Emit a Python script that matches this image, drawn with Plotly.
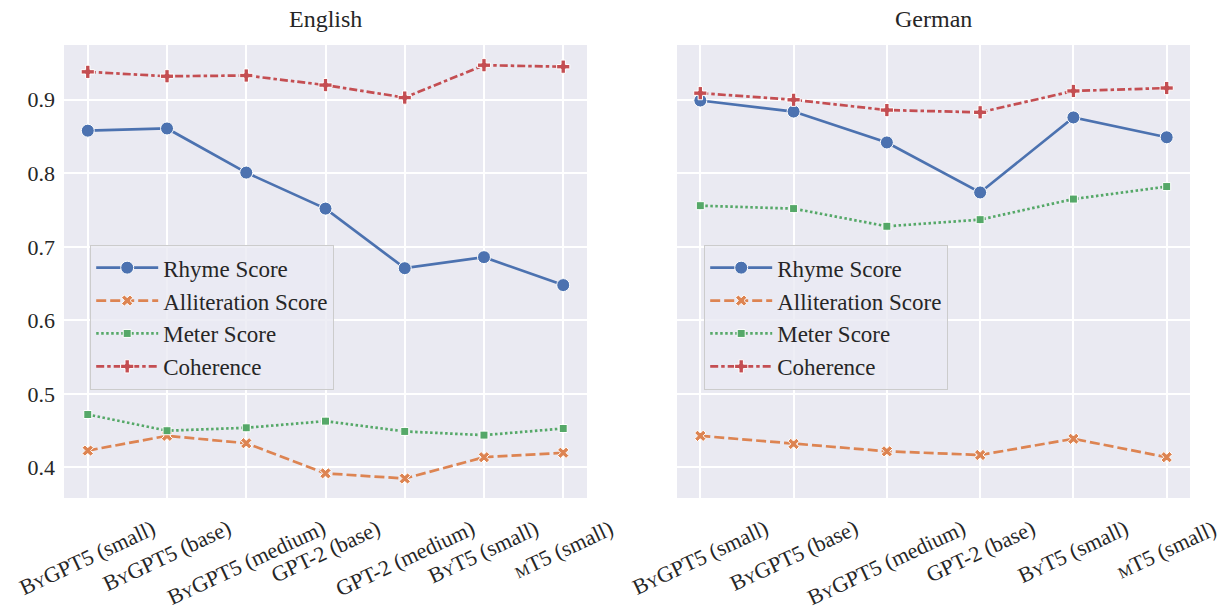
import plotly.graph_objects as go

# ---------------- data ----------------
models_en = ["ByGPT5 (small)", "ByGPT5 (base)", "ByGPT5 (medium)", "GPT-2 (base)",
             "GPT-2 (medium)", "ByT5 (small)", "mT5 (small)"]
models_de = ["ByGPT5 (small)", "ByGPT5 (base)", "ByGPT5 (medium)", "GPT-2 (base)",
             "ByT5 (small)", "mT5 (small)"]

en_rhyme = [0.858, 0.861, 0.801, 0.752, 0.671, 0.686, 0.648]
en_allit = [0.423, 0.443, 0.433, 0.392, 0.385, 0.414, 0.420]
en_meter = [0.472, 0.450, 0.454, 0.463, 0.449, 0.444, 0.453]
en_coh = [0.938, 0.932, 0.933, 0.920, 0.903, 0.947, 0.945]

de_rhyme = [0.899, 0.884, 0.842, 0.774, 0.876, 0.849]
de_allit = [0.443, 0.432, 0.422, 0.417, 0.439, 0.414]
de_meter = [0.756, 0.752, 0.728, 0.737, 0.765, 0.782]
de_coh = [0.909, 0.900, 0.886, 0.883, 0.912, 0.916]

series_names = ["Rhyme Score", "Alliteration Score", "Meter Score", "Coherence"]
y_ticks = [0.4, 0.5, 0.6, 0.7, 0.8, 0.9]
panel_titles = ["English", "German"]

# ---------------- style ----------------
FONT = "Liberation Serif, Times New Roman, DejaVu Serif, serif"
TXT = "#262626"
BG = "#EAEAF2"
colors = ["#4C72B0", "#DD8452", "#55A868", "#C44E52"]
dashes = ["solid", "10px,4px", "2.5px,2.5px", "8px,3px,3.5px,3px"]
symbols = ["circle", "x", "square", "cross"]
msizes = [13, 10, 8, 11]
LW = 2.7


def smallcaps(name):
    sc = "<span style='font-size:16px'>%s</span>"
    name = name.replace("ByGPT5", "B" + sc % "Y" + "GPT5")
    name = name.replace("ByT5", "B" + sc % "Y" + "T5")
    name = name.replace("mT5", sc % "M" + "T5")
    return name


fig = go.Figure()

panels = [
    (models_en, [en_rhyme, en_allit, en_meter, en_coh], "x", "y", "legend"),
    (models_de, [de_rhyme, de_allit, de_meter, de_coh], "x2", "y2", "legend2"),
]

for models, vals, xa, ya, lg in panels:
    xs = list(range(len(models)))
    for i, (name, v) in enumerate(zip(series_names, vals)):
        fig.add_trace(go.Scatter(
            x=xs, y=v, name=name, mode="lines+markers",
            xaxis=xa, yaxis=ya, legend=lg,
            line=dict(color=colors[i], width=LW, dash=dashes[i]),
            marker=dict(symbol=symbols[i], size=msizes[i], color=colors[i],
                        line=dict(color="white", width=1)),
        ))

yr = [0.3585, 0.9745]
common_x = dict(showgrid=True, gridcolor="white", gridwidth=1.5, zeroline=False,
                showline=False, ticks="", showticklabels=False)

fig.update_layout(
    width=1223, height=612,
    margin=dict(l=0, r=0, t=0, b=0),
    paper_bgcolor="white", plot_bgcolor=BG,
    font=dict(family=FONT, size=20, color=TXT),
    xaxis=dict(domain=[64 / 1223, 587 / 1223], range=[-0.3, 6.3],
               tickvals=list(range(len(models_en))), anchor="y", **common_x),
    xaxis2=dict(domain=[677 / 1223, 1190 / 1223], range=[-0.25, 5.25],
                tickvals=list(range(len(models_de))), anchor="y2", **common_x),
    yaxis=dict(domain=[1 - 498 / 612, 1 - 45 / 612], range=yr, anchor="x",
               tickvals=y_ticks, ticktext=["%.1f" % t for t in y_ticks],
               showgrid=True, gridcolor="white", gridwidth=1.5, zeroline=False,
               ticks="", ticklabelstandoff=8,
               tickfont=dict(family=FONT, size=22, color=TXT)),
    yaxis2=dict(domain=[1 - 498 / 612, 1 - 45 / 612], range=yr, anchor="x2",
                matches="y", tickvals=y_ticks, showticklabels=False,
                showgrid=True, gridcolor="white", gridwidth=1.5, zeroline=False,
                ticks=""),
    showlegend=True,
)

leg_common = dict(bgcolor="rgba(234,234,242,0.8)", bordercolor="#CCCCCC", borderwidth=1.2,
                  font=dict(family=FONT, size=23, color=TXT), xanchor="left", yanchor="top",
                  tracegroupgap=0, itemwidth=62)
fig.update_layout(
    legend=dict(x=90 / 1223, y=1 - 245 / 612, **leg_common),
    legend2=dict(x=704 / 1223, y=1 - 245 / 612, **leg_common),
)

# panel titles
for title, xa in zip(panel_titles, ["x", "x2"]):
    fig.add_annotation(text=title, xref=xa + " domain", yref="paper", x=0.5,
                       y=1 - 4 / 612, xanchor="center", yanchor="top", showarrow=False,
                       font=dict(family=FONT, size=24, color=TXT))

# rotated category labels (centered under each tick, like matplotlib)
for models, xa in [(models_en, "x"), (models_de, "x2")]:
    for i, m in enumerate(models):
        fig.add_annotation(text=smallcaps(m), xref=xa, yref="paper", x=i,
                           y=1 - 514 / 612, xanchor="center", yanchor="top",
                           textangle=-25, showarrow=False, borderpad=0,
                           font=dict(family=FONT, size=22, color=TXT))

fig.write_html("out.html", config={"displayModeBar": False},
               post_script="document.body.style.margin='0';document.body.style.overflow='hidden';")
